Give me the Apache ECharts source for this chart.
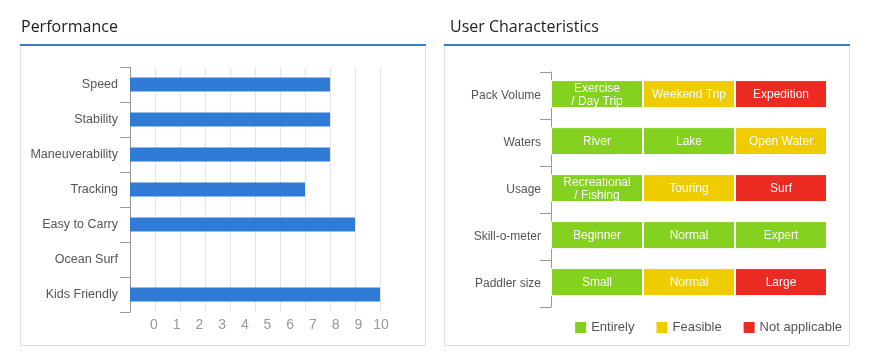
<!DOCTYPE html>
<html>
<head>
<meta charset="utf-8">
<script src="https://cdn.jsdelivr.net/npm/echarts@6/dist/echarts.min.js"></script>
<style>
html,body{margin:0;padding:0;background:#fff;}
#chart{width:870px;height:364px;}
</style>
</head>
<body>
<div id="chart"></div>
<script>
// ---- Performance data ----
const perfCategories = ['Speed', 'Stability', 'Maneuverability', 'Tracking', 'Easy to Carry', 'Ocean Surf', 'Kids Friendly'];
const perfValues = [8, 8, 8, 7, 9, 0, 10];
const perfTickMin = 0;
const perfTickMax = 10;

// ---- User Characteristics data ----
const charCategories = ['Pack Volume', 'Waters', 'Usage', 'Skill-o-meter', 'Paddler size'];
const slot1Labels = ['Exercise\n/ Day Trip', 'River', 'Recreational\n/ Fishing', 'Beginner', 'Small'];
const slot1Status = ['Entirely', 'Entirely', 'Entirely', 'Entirely', 'Entirely'];
const slot2Labels = ['Weekend Trip', 'Lake', 'Touring', 'Normal', 'Normal'];
const slot2Status = ['Feasible', 'Entirely', 'Feasible', 'Entirely', 'Feasible'];
const slot3Labels = ['Expedition', 'Open Water', 'Surf', 'Expert', 'Large'];
const slot3Status = ['Not applicable', 'Feasible', 'Not applicable', 'Entirely', 'Not applicable'];
const statusNames = ['Entirely', 'Feasible', 'Not applicable'];

const statusColors = {'Entirely': '#84d11f', 'Feasible': '#efcc00', 'Not applicable': '#eb2a21'};
const FONT = '"Liberation Sans", Arial, sans-serif';
const TITLE_FONT = '"Open Sans", "Noto Sans", sans-serif';

function slotSeries(labels, status) {
  return {
    type: 'bar', stack: 'slots', xAxisIndex: 2, yAxisIndex: 2, barWidth: 28,
    data: labels.map((t, i) => ({
      value: 1,
      name: t,
      itemStyle: {color: statusColors[status[i]]}
    })),
    itemStyle: {borderColor: '#fff', borderWidth: 1},
    label: {
      show: true, position: 'inside', offset: [0, 1], color: '#fff', fontSize: 12, lineHeight: 13,
      fontFamily: FONT, formatter: p => p.name
    },
    emphasis: {disabled: true},
    legendHoverLink: false
  };
}

const chart = echarts.init(document.getElementById('chart'), null, {renderer: 'canvas'});
chart.setOption({
  animation: false,
  title: [
    {text: 'Performance', left: 21, top: 19, padding: 0,
     textStyle: {fontSize: 16, fontWeight: 'normal', color: '#222', fontFamily: TITLE_FONT}},
    {text: 'User Characteristics', left: 450, top: 19, padding: 0,
     textStyle: {fontSize: 16, fontWeight: 'normal', color: '#222', fontFamily: TITLE_FONT}}
  ],
  graphic: [
    {type: 'rect', shape: {x: 20.5, y: 45.5, width: 405, height: 300}, style: {fill: 'none', stroke: '#dddddd', lineWidth: 1}, silent: true},
    {type: 'rect', shape: {x: 20, y: 44, width: 406, height: 2}, style: {fill: '#3d7ccc'}, silent: true},
    {type: 'rect', shape: {x: 444.5, y: 45.5, width: 405, height: 300}, style: {fill: 'none', stroke: '#dddddd', lineWidth: 1}, silent: true},
    {type: 'rect', shape: {x: 444, y: 44, width: 406, height: 2}, style: {fill: '#3d7ccc'}, silent: true}
  ],
  legend: {
    data: statusNames, right: 28, top: 321, padding: 0, icon: 'rect', itemWidth: 11, itemHeight: 11,
    itemGap: 22, textStyle: {fontSize: 13, color: '#555', fontFamily: FONT},
    selectedMode: false
  },
  grid: [
    {left: 130, top: 67, width: 250, height: 245},
    {left: 154, top: 67, width: 227, height: 245},
    {left: 551, top: 72, width: 276, height: 235}
  ],
  xAxis: [
    {type: 'value', gridIndex: 0, min: perfTickMin, max: perfTickMax, interval: 1,
     axisLine: {show: false}, axisTick: {show: false}, axisLabel: {show: false},
     splitLine: {show: true, lineStyle: {color: '#e6e6e6'}}},
    {type: 'value', gridIndex: 1, min: perfTickMin, max: perfTickMax, interval: 1,
     axisLine: {show: false}, axisTick: {show: false}, splitLine: {show: false},
     axisLabel: {show: true, color: '#999', fontSize: 14, margin: 6, fontFamily: FONT}},
    {type: 'value', gridIndex: 2, min: 0, max: 3, show: false}
  ],
  yAxis: [
    {type: 'category', gridIndex: 0, data: perfCategories, inverse: true,
     axisLine: {show: true, lineStyle: {color: '#999'}},
     axisTick: {show: true, inside: false, alignWithLabel: false, length: 10, interval: 0, lineStyle: {color: '#999'}},
     axisLabel: {color: '#555', fontSize: 12.5, margin: 12, fontFamily: FONT},
     splitLine: {show: false}},
    {type: 'value', gridIndex: 1, show: false},
    {type: 'category', gridIndex: 2, data: charCategories, inverse: true,
     axisLine: {show: true, lineStyle: {color: '#999'}},
     axisTick: {show: true, inside: false, alignWithLabel: false, length: 11, interval: 0, lineStyle: {color: '#999'}},
     axisLabel: {color: '#555', fontSize: 12, margin: 10, fontFamily: FONT}}
  ],
  series: [
    {type: 'bar', name: 'Performance', xAxisIndex: 0, yAxisIndex: 0, data: perfValues,
     barWidth: 14, itemStyle: {color: '#2f7bd6'}, emphasis: {disabled: true}},
    slotSeries(slot1Labels, slot1Status),
    slotSeries(slot2Labels, slot2Status),
    slotSeries(slot3Labels, slot3Status),
    ...statusNames.map(n => ({type: 'bar', name: n, xAxisIndex: 2, yAxisIndex: 2, data: [],
      itemStyle: {color: statusColors[n]}}))
  ]
});
</script>
</body>
</html>
